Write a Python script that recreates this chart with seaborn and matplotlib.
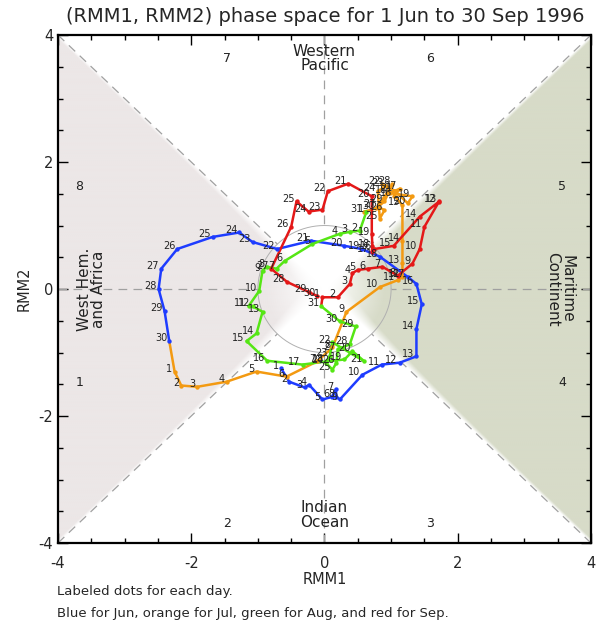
import numpy as np
import matplotlib
matplotlib.use("Agg")
import matplotlib.pyplot as plt
from matplotlib.colors import to_rgb
import seaborn as sns

sns.set_theme(style="white")
plt.rcParams['font.family'] = ['DejaVu Sans']
plt.rcParams['axes.unicode_minus'] = False

# daily (RMM1, RMM2) values
jun_rmm1 = [-0.65, -0.53, -0.30, -0.23, -0.03, 0.11, 0.17, 0.18, 0.23, 0.57,
            0.86, 1.13, 1.38, 1.38, 1.46, 1.38, 1.25, 0.83, 0.56, 0.30,
            -0.20, -0.71, -1.08, -1.28, -1.68, -2.21, -2.45, -2.49, -2.40, -2.33]
jun_rmm2 = [-1.25, -1.46, -1.55, -1.51, -1.74, -1.70, -1.58, -1.70, -1.74, -1.35,
            -1.19, -1.16, -1.06, -0.63, -0.24, 0.08, 0.19, 0.51, 0.63, 0.68,
            0.76, 0.63, 0.74, 0.89, 0.82, 0.63, 0.32, 0.00, -0.35, -0.82]

jul_rmm1 = [-2.25, -2.15, -1.91, -1.47, -1.02, -0.57, -0.11, 0.12, 0.33, 0.83,
            1.10, 1.17, 1.17, 1.17, 1.17, 1.05, 1.13, 0.98, 1.32, 1.25,
            1.05, 0.87, 0.92, 0.80, 0.83, 0.90, 0.80, 1.02, 0.90, 0.78, 0.60]
jul_rmm2 = [-1.30, -1.52, -1.54, -1.46, -1.30, -1.38, -1.14, -0.92, -0.36, 0.03,
            0.14, 0.19, 0.41, 0.76, 1.32, 1.47, 1.58, 1.51, 1.46, 1.35,
            1.55, 1.65, 1.62, 1.54, 1.11, 1.24, 1.30, 1.65, 1.38, 1.27, 1.22]

aug_rmm1 = [0.63, 0.53, 0.38, 0.23, -0.18, -0.60, -0.72, -0.87, -0.93, -0.98,
            -1.14, -1.08, -0.93, -1.02, -1.17, -0.86, -0.33, 0.03, 0.30, 0.42,
            0.60, 0.12, 0.08, 0.02, 0.12, 0.18, 0.20, 0.38, 0.47, 0.23, -0.05]
aug_rmm2 = [1.22, 0.92, 0.90, 0.87, 0.71, 0.44, 0.32, 0.35, 0.29, -0.03,
            -0.27, -0.27, -0.36, -0.70, -0.82, -1.13, -1.19, -1.14, -1.11, -0.98,
            -1.14, -0.84, -1.05, -1.16, -1.27, -1.16, -0.95, -0.87, -0.59, -0.51, -0.27]

sep_rmm1 = [-0.03, 0.20, 0.38, 0.42, 0.50, 0.65, 0.87, 1.10, 1.32, 1.43,
            1.50, 1.715, 1.725, 1.43, 1.04, 0.75, 0.71, 0.72, 0.71, 0.71,
            0.36, 0.05, -0.03, -0.24, -0.42, -0.50, -0.80, -0.56, -0.23, -0.11]
sep_rmm2 = [-0.13, -0.13, 0.08, 0.25, 0.30, 0.32, 0.35, 0.21, 0.40, 0.63,
            0.98, 1.37, 1.38, 1.14, 0.68, 0.63, 0.59, 0.67, 0.86, 1.46,
            1.66, 1.54, 1.25, 1.22, 1.38, 0.98, 0.32, 0.11, -0.05, -0.11]

months = [(jun_rmm1, jun_rmm2), (jul_rmm1, jul_rmm2),
          (aug_rmm1, aug_rmm2), (sep_rmm1, sep_rmm2)]
month_colors = ["#1e3cff", "#f39a12", "#55e614", "#e41818"]

phase_nums = ["1", "2", "3", "4", "5", "6", "7", "8"]
phase_x = [-3.68, -1.46, 1.58, 3.57, 3.57, 1.58, -1.46, -3.68]
phase_y = [-1.47, -3.69, -3.69, -1.47, 1.62, 3.63, 3.63, 1.62]

fig = plt.figure(figsize=(5.96, 6.22), dpi=100)
ax = fig.add_axes([0.0973, 0.127, 0.8943, 0.8167])

# shaded regions (West Hem./Africa on the left, Maritime Continent on the right)
g = np.linspace(-4, 4, 801)
X, Y = np.meshgrid(g, g)
d = (np.abs(X) - np.abs(Y)) / np.sqrt(2)
r = np.hypot(X, Y)
soft = 0.04 + 0.25 * np.exp(-r / 1.2)
alpha = np.clip(d / soft, 0, 1) * np.clip(r / 0.9, 0, 1)
rgba = np.zeros(X.shape + (4,))
rgba[..., :3] = np.where(X[..., None] < 0, np.array(to_rgb("#ece7e7")), np.array(to_rgb("#d7dbc8")))
rgba[..., 3] = alpha
ax.imshow(rgba, extent=(-4, 4, -4, 4), origin="lower", aspect="auto", zorder=0,
          interpolation="bilinear")

# dashed phase boundaries, stopping at the unit circle
dash = dict(color="#a0a0a0", lw=0.9, ls=(0, (7, 5)), zorder=1)
c45 = np.sqrt(0.5)
for sx in (-1, 1):
    for sy in (-1, 1):
        ax.plot([sx * 4, sx * c45], [sy * 4, sy * c45], **dash)
    ax.plot([sx * 4, sx * 1], [0, 0], **dash)
    ax.plot([0, 0], [sx * 4, sx * 1], **dash)
t = np.linspace(0, 2 * np.pi, 300)
ax.plot(np.cos(t), np.sin(t), color="#b0b0b0", lw=0.7, zorder=1)

# daily trajectory, one colour per month
prev = None
for (xs, ys), col in zip(months, month_colors):
    lx, ly = list(xs), list(ys)
    if prev is not None:
        lx, ly = [prev[0]] + lx, [prev[1]] + ly
    sns.lineplot(x=lx, y=ly, sort=False, estimator=None, color=col, lw=1.8, ax=ax, zorder=3)
    sns.scatterplot(x=xs, y=ys, color=col, s=10, linewidth=0, ax=ax, zorder=4)
    for day, (xi, yi) in enumerate(zip(xs, ys), start=1):
        ax.annotate(str(day), (xi, yi), xytext=(-1.5, 2), textcoords="offset points",
                    ha="right", va="center", fontsize=7, color="#222222", zorder=5)
    prev = (xs[-1], ys[-1])

# phase numbers and region names
for n, px, py in zip(phase_nums, phase_x, phase_y):
    ax.text(px, py, n, ha="center", va="center", fontsize=9, color="#222222")
ax.text(0, 3.63, "Western\nPacific", ha="center", va="center", fontsize=11,
        linespacing=0.95, color="#222222")
ax.text(0, -3.56, "Indian\nOcean", ha="center", va="center", fontsize=11,
        linespacing=0.95, color="#222222")
ax.text(-3.5, 0, "West Hem.\nand Africa", ha="center", va="center", fontsize=11,
        rotation=90, linespacing=0.95, color="#222222")
ax.text(3.53, 0, "Maritime\nContinent", ha="center", va="center", fontsize=11,
        rotation=-90, linespacing=0.95, color="#222222")

ax.set_xlim(-4, 4)
ax.set_ylim(-4, 4)
ax.set_xticks([-4, -2, 0, 2, 4])
ax.set_yticks([-4, -2, 0, 2, 4])
ax.set_xticks(np.arange(-4, 4.01, 0.5), minor=True)
ax.set_yticks(np.arange(-4, 4.01, 0.5), minor=True)
ax.tick_params(which="both", direction="in", bottom=True, left=True, top=True, right=True,
               color="black", width=1)
ax.tick_params(which="major", length=7, labelsize=10.5)
ax.tick_params(axis="x", which="major", pad=9)
ax.tick_params(which="minor", length=3.5)
for s in ax.spines.values():
    s.set_color("black")
    s.set_linewidth(1.6)
ax.set_xlabel("RMM1", fontsize=10.5, labelpad=1)
ax.set_ylabel("RMM2", fontsize=10.5, labelpad=5)

fig.text(0.545, 1 - 17 / 622, "(RMM1, RMM2) phase space for 1 Jun to 30 Sep 1996",
         ha="center", va="center", fontsize=14)
fig.text(57 / 596, 1 - 592 / 622, "Labeled dots for each day.", ha="left", va="center",
         fontsize=9.5)
fig.text(57 / 596, 1 - 614 / 622, "Blue for Jun, orange for Jul, green for Aug, and red for Sep.",
         ha="left", va="center", fontsize=9.5)

fig.savefig("out.png", dpi=100)
